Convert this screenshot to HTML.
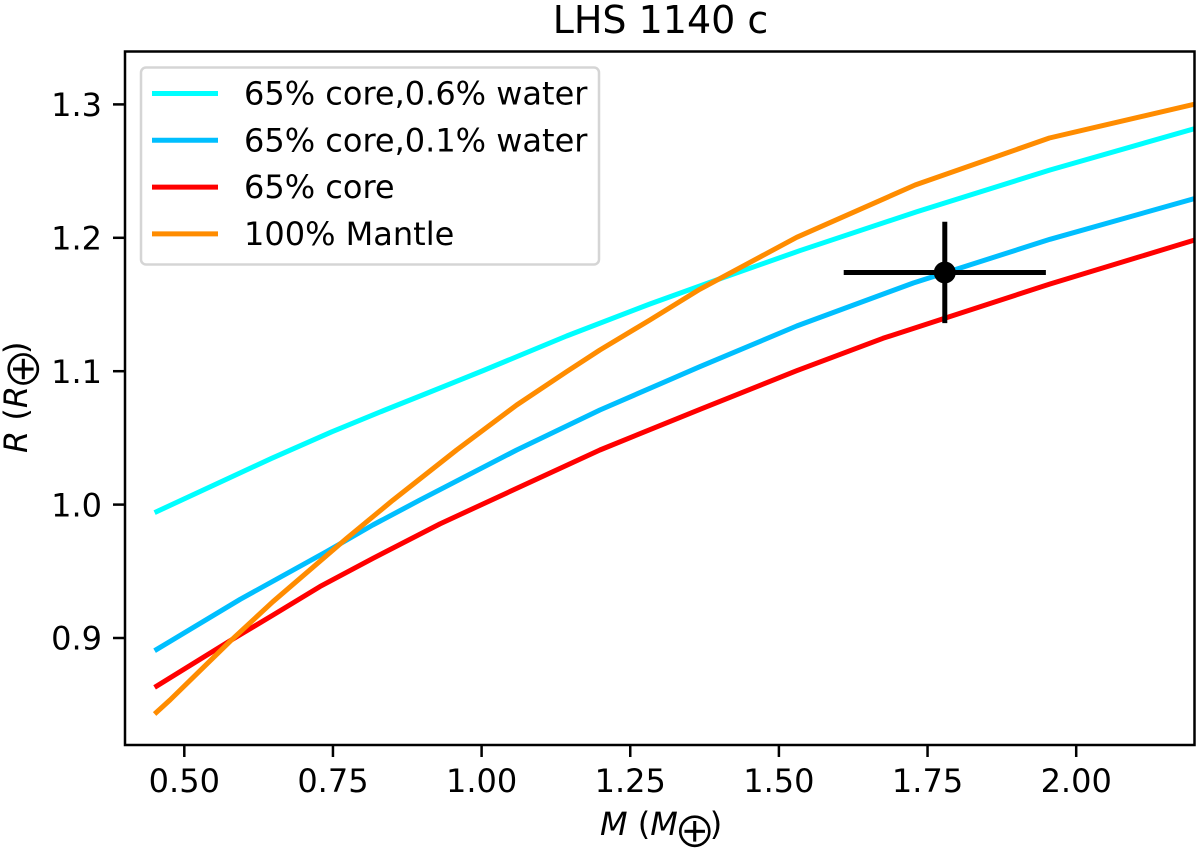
<!DOCTYPE html>
<html lang="en">
<head>
<meta charset="utf-8">
<title>LHS 1140 c</title>
<style>
html,body{margin:0;padding:0;background:#fff;width:1200px;height:854px;overflow:hidden}
svg{display:block}
text{font-family:"DejaVu Sans","Liberation Sans",sans-serif;fill:#000}
</style>
</head>
<body>
<svg id="chart" xmlns="http://www.w3.org/2000/svg" width="1200" height="854" viewBox="0 0 1200 854">
  <rect x="0" y="0" width="1200" height="854" fill="#fff"/>
  <text x="660.5" y="33" font-size="38" text-anchor="middle">LHS 1140 c</text>
  <defs><clipPath id="plot-clip"><rect x="125" y="51" width="1070" height="694"/></clipPath></defs>
  <g id="series" clip-path="url(#plot-clip)"></g>
  <g id="errorbars"></g>
  <rect x="125" y="51.5" width="1069.5" height="693.5" fill="none" stroke="#000" stroke-width="2.5"/>
  <g id="xticks"></g>
  <g id="yticks"></g>
  <text x="600" y="835" font-size="32"><tspan font-style="italic">M</tspan> (<tspan font-style="italic">M</tspan><tspan font-size="50" dx="-4" dy="12" stroke="#fff" stroke-width="1">⊕</tspan><tspan dx="-6" dy="-12">)</tspan></text>
  <text transform="translate(27,453) rotate(-90)" font-size="32"><tspan font-style="italic">R</tspan> (<tspan font-style="italic">R</tspan><tspan font-size="50" dx="-4" dy="12" stroke="#fff" stroke-width="1">⊕</tspan><tspan dx="-6" dy="-12">)</tspan></text>
  <g id="legend">
    <rect x="141" y="67.5" width="458" height="197" rx="5" fill="#fff" fill-opacity="0.9" stroke="#d5d5d5" stroke-width="2.5"/>
  </g>
</svg>
<script>
const xTicks = [0.5, 0.75, 1.0, 1.25, 1.5, 1.75, 2.0];
const xTickLabels = ["0.50", "0.75", "1.00", "1.25", "1.50", "1.75", "2.00"];
const yTicks = [0.9, 1.0, 1.1, 1.2, 1.3];
const yTickLabels = ["0.9", "1.0", "1.1", "1.2", "1.3"];

const seriesNames = ["65% core,0.6% water", "65% core,0.1% water", "65% core", "100% Mantle"];
const seriesColors = ["#00ffff", "#00bfff", "#ff0000", "#ff8c00"];

const massCyan = [0.45, 0.647, 0.748, 0.8375, 0.905, 1.003, 1.143, 1.283, 1.395, 1.535, 1.732, 1.956, 2.2];
const radiusCyan = [0.994, 1.0347, 1.0546, 1.0709, 1.0829, 1.1005, 1.1264, 1.1504, 1.1684, 1.1903, 1.2196, 1.2508, 1.2819];
const massBlue = [0.45, 0.594, 0.739, 0.817, 0.896, 1.059, 1.199, 1.367, 1.53, 1.726, 1.956, 2.2];
const radiusBlue = [0.8905, 0.929, 0.9647, 0.9847, 1.0034, 1.0409, 1.0709, 1.1034, 1.1339, 1.1661, 1.1989, 1.2295];
const massRed = [0.45, 0.577, 0.649, 0.728, 0.817, 0.93, 1.0, 1.199, 1.367, 1.53, 1.675, 1.956, 2.2];
const radiusRed = [0.863, 0.898, 0.9172, 0.9385, 0.9597, 0.9855, 1.0, 1.0409, 1.0714, 1.1004, 1.1247, 1.1654, 1.1984];
const massOrange = [0.45, 0.476, 0.577, 0.649, 0.773, 0.851, 0.958, 1.059, 1.143, 1.199, 1.283, 1.367, 1.53, 1.729, 1.955, 2.2];
const radiusOrange = [0.843, 0.8535, 0.8975, 0.9272, 0.9747, 1.0034, 1.0409, 1.0747, 1.0996, 1.1159, 1.1384, 1.1614, 1.2004, 1.2396, 1.2748, 1.3003];

const pointMass = [1.779];
const pointRadius = [1.174];
const pointMassErr = [0.17];
const pointRadiusErr = [0.038];

const NS = "http://www.w3.org/2000/svg";
function xScale(m) { return 184.3 + (m - 0.5) * 594.6; }
function yScale(r) { return 638 - (r - 0.9) * 1334; }
function make(tag, attrs, parent) {
  const el = document.createElementNS(NS, tag);
  for (const k in attrs) el.setAttribute(k, attrs[k]);
  parent.appendChild(el);
  return el;
}

const xGroup = document.getElementById("xticks");
xTicks.forEach(function (t, i) {
  const px = xScale(t);
  const tick = make("line", { x1: px, x2: px, y1: 745, y2: 757, stroke: "#000", "stroke-width": 2.5 }, xGroup);
  
  
  const label = make("text", { x: px, y: 792, "font-size": 32, "text-anchor": "middle" }, xGroup);
  
  
  label.textContent = xTickLabels[i];
});

const yGroup = document.getElementById("yticks");
yTicks.forEach(function (t, i) {
  const py = yScale(t);
  const tick = make("line", { x1: 113, x2: 125, y1: py, y2: py, stroke: "#000", "stroke-width": 2.5 }, yGroup);
  
  
  const label = make("text", { x: 102, y: py + 11.7, "font-size": 32, "text-anchor": "end" }, yGroup);
  
  
  label.textContent = yTickLabels[i];
});

const seriesGroup = document.getElementById("series");
const seriesMass = [massCyan, massBlue, massRed, massOrange];
const seriesRadius = [radiusCyan, radiusBlue, radiusRed, radiusOrange];
seriesNames.forEach(function (name, i) {
  const pts = seriesMass[i].map(function (m, j) {
    return xScale(m).toFixed(1) + "," + yScale(seriesRadius[i][j]).toFixed(1);
  }).join(" ");
  const line = make("polyline", { points: pts, fill: "none", stroke: seriesColors[i], "stroke-width": 5, "stroke-linejoin": "round" }, seriesGroup);
  
  
});

const errGroup = document.getElementById("errorbars");
pointMass.forEach(function (m, i) {
  const cx = xScale(m);
  const cy = yScale(pointRadius[i]);
  const h = make("line", { x1: xScale(m - pointMassErr[i]), x2: xScale(m + pointMassErr[i]), y1: cy, y2: cy, stroke: "#000", "stroke-width": 5 }, errGroup);
  
  
  const v = make("line", { x1: cx, x2: cx, y1: yScale(pointRadius[i] + pointRadiusErr[i]), y2: yScale(pointRadius[i] - pointRadiusErr[i]), stroke: "#000", "stroke-width": 5 }, errGroup);
  
  
  const c = make("circle", { cx: cx, cy: cy, r: 11, fill: "#000" }, errGroup);
  
  
});

const legend = document.getElementById("legend");
seriesNames.forEach(function (name, i) {
  const ly = 93.5 + i * 46.8;
  const sw = make("line", { x1: 152, x2: 218, y1: ly, y2: ly, stroke: seriesColors[i], "stroke-width": 5 }, legend);
  
  
  const tx = make("text", { x: 244, y: ly + 11, "font-size": 32 }, legend);
  
  
  tx.textContent = name;
});
</script>
</body>
</html>
